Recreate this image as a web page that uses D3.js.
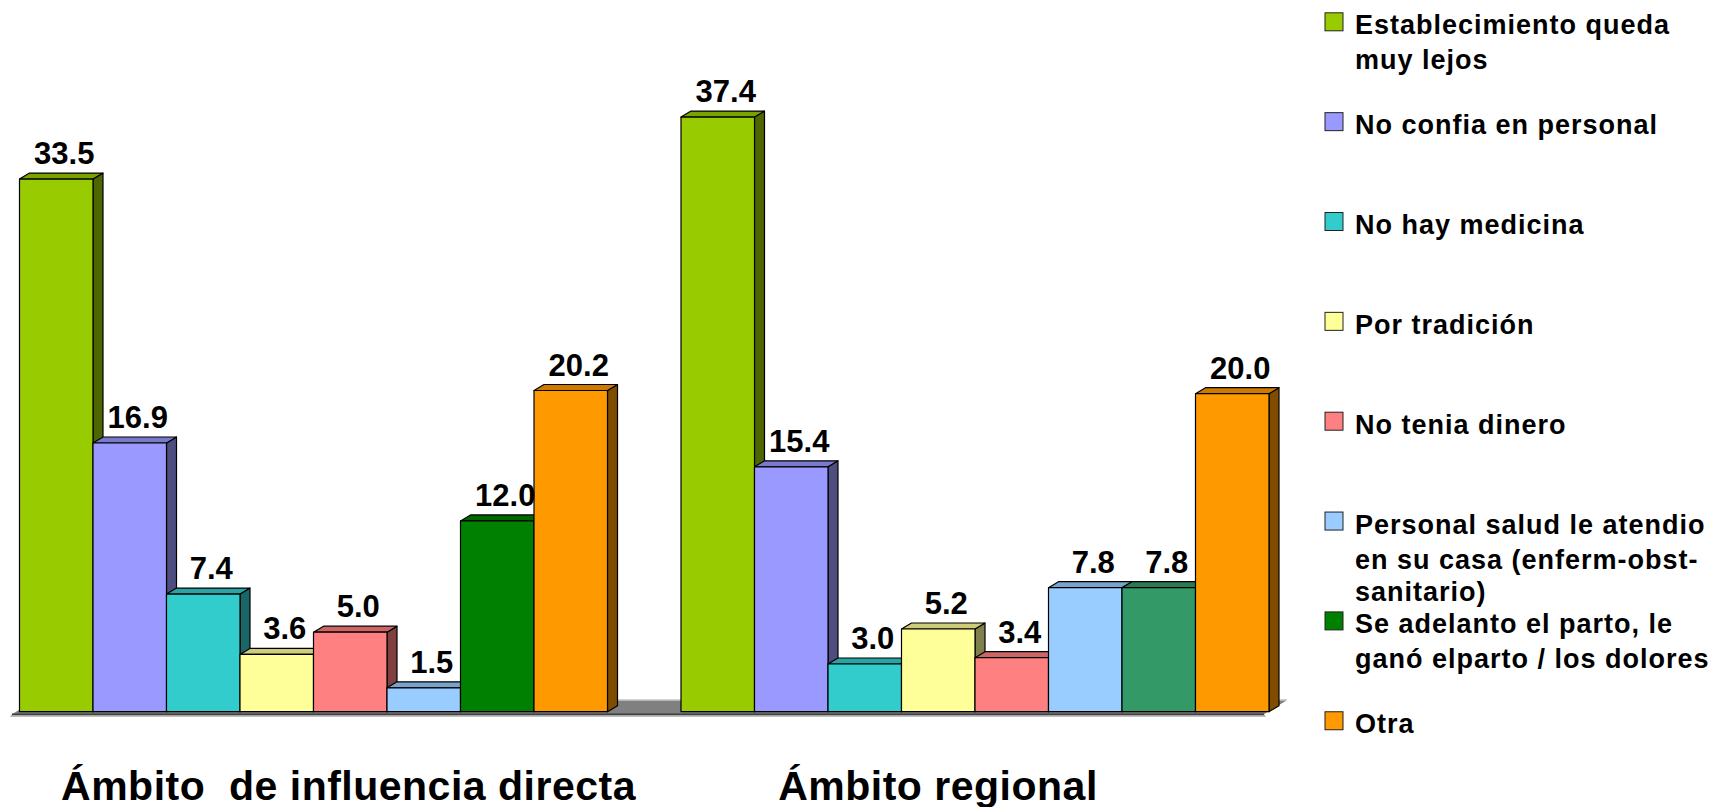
<!DOCTYPE html>
<html>
<head>
<meta charset="utf-8">
<script src="https://cdn.jsdelivr.net/npm/d3@7"></script>
<style>
  html, body { margin: 0; padding: 0; background: #ffffff; }
  svg { display: block; font-family: "Liberation Sans", Arial, sans-serif; }
</style>
</head>
<body>
<svg id="chart" width="1727" height="807"></svg>
<script>
// ---------------- DATA ----------------
const groups = ["Ámbito  de influencia directa", "Ámbito regional"];
const categories = [
  "Establecimiento queda muy lejos",
  "No confia en personal",
  "No hay medicina",
  "Por tradición",
  "No tenia dinero",
  "Personal salud le atendio en su casa (enferm-obst-sanitario)",
  "Se adelanto el parto, le ganó elparto / los dolores",
  "Otra"
];
const legendLines = [
  ["Establecimiento queda", "muy lejos"],
  ["No confia en personal"],
  ["No hay medicina"],
  ["Por tradición"],
  ["No tenia dinero"],
  ["Personal salud le atendio", "en su casa (enferm-obst-", "sanitario)"],
  ["Se adelanto el parto, le", "ganó elparto / los dolores"],
  ["Otra"]
];
const valuesDirecta  = [33.5, 16.9, 7.4, 3.6, 5.0, 1.5, 12.0, 20.2];
const valuesRegional = [37.4, 15.4, 3.0, 5.2, 3.4, 7.8, 7.8, 20.0];
const seriesColors   = ["#99CC00", "#9999FF", "#33CCCC", "#FFFF99", "#FF8080", "#99CCFF", "#008000", "#FF9900"];
// the regional "Se adelanto el parto" bar is drawn in a different green in the original
const regionalColors = ["#99CC00", "#9999FF", "#33CCCC", "#FFFF99", "#FF8080", "#99CCFF", "#339966", "#FF9900"];

// ---------------- LAYOUT ----------------
const svg = d3.select("#chart");
const baseY = 711.7;
const pxPerUnit = 15.9;
const depthX = 10, depthY = 6;

const y = d3.scaleLinear().domain([0, 40]).range([baseY, baseY - 40 * pxPerUnit]);
const xGroup = d3.scaleBand().domain(groups).range([19.5, 1269]).paddingInner(1 / 9).paddingOuter(0);
const xInner = d3.scaleBand().domain(categories).range([0, xGroup.bandwidth()]).padding(0);

const data = groups.map((g, gi) => ({
  group: g,
  values: (gi === 0 ? valuesDirecta : valuesRegional).map((v, i) => ({
    cat: categories[i], value: v, color: (gi === 0 ? seriesColors : regionalColors)[i]
  }))
}));

function shade(c, k) {
  const col = d3.rgb(c);
  return d3.rgb(col.r * k, col.g * k, col.b * k).formatHex();
}

// ---------------- FLOOR ----------------
const floorX0 = xGroup.range()[0] - 7.5, floorX1 = xGroup.range()[1] - 5;
const floorFront = baseY + 2.5, floorBack = baseY - 11.5;
svg.append("polygon")
  .attr("points", [
    [floorX0, floorFront], [floorX1, floorFront],
    [floorX1 + 23, floorBack], [floorX0 + 23, floorBack]
  ].map(p => p.join(",")).join(" "))
  .attr("fill", "#808080");
svg.append("line")
  .attr("x1", floorX0 + 23).attr("x2", floorX1 + 23)
  .attr("y1", floorBack - 0.5).attr("y2", floorBack - 0.5)
  .attr("stroke", "#d0d0d0").attr("stroke-width", 1.5);
svg.append("polygon")
  .attr("points", [
    [floorX0, floorFront], [floorX1, floorFront],
    [floorX1 + 2, floorFront + 2.5], [floorX0 - 2, floorFront + 2.5]
  ].map(p => p.join(",")).join(" "))
  .attr("fill", "#a8a8a8");
svg.append("line")
  .attr("x1", floorX0).attr("x2", floorX1)
  .attr("y1", floorFront).attr("y2", floorFront)
  .attr("stroke", "#404040").attr("stroke-width", 1.5);

// ---------------- BARS ----------------
const gGroups = svg.selectAll("g.grp").data(data).join("g")
  .attr("class", "grp")
  .attr("transform", d => `translate(${xGroup(d.group)},0)`);

gGroups.each(function(gd) {
  const g = d3.select(this);
  gd.values.forEach(d => {
    const x0 = xInner(d.cat), x1 = x0 + xInner.bandwidth();
    const top = y(d.value), bot = y(0);
    const bar = g.append("g").attr("stroke", "#000").attr("stroke-width", 1.2).attr("stroke-linejoin", "round");
    // side face
    bar.append("polygon")
      .attr("points", [[x1, top], [x1 + depthX, top - depthY], [x1 + depthX, bot - depthY], [x1, bot]].map(p => p.join(",")).join(" "))
      .attr("fill", shade(d.color, 0.5));
    // top face
    bar.append("polygon")
      .attr("points", [[x0, top], [x0 + depthX, top - depthY], [x1 + depthX, top - depthY], [x1, top]].map(p => p.join(",")).join(" "))
      .attr("fill", shade(d.color, 0.8));
    // front face
    bar.append("rect")
      .attr("x", x0).attr("y", top)
      .attr("width", xInner.bandwidth()).attr("height", bot - top)
      .attr("fill", d.color);
  });
});

// value labels
gGroups.each(function(gd) {
  d3.select(this).selectAll("text.val").data(gd.values).join("text")
    .attr("class", "val")
    .attr("x", d => xInner(d.cat) + xInner.bandwidth() / 2 + 8)
    .attr("y", d => y(d.value) - 15)
    .attr("text-anchor", "middle")
    .attr("font-size", 31)
    .attr("font-weight", "bold")
    .attr("fill", "#000")
    .text(d => d3.format(".1f")(d.value));
});

// group titles
const titleShift = [35, -37];
svg.selectAll("text.grpTitle").data(groups).join("text")
  .attr("class", "grpTitle")
  .attr("x", (d, i) => xGroup(d) + xGroup.bandwidth() / 2 + titleShift[i])
  .attr("y", 799.5)
  .attr("text-anchor", "middle")
  .attr("font-size", 41)
  .attr("font-weight", "bold")
  .attr("letter-spacing", 0.5)
  .style("white-space", "pre")
  .attr("fill", "#000")
  .text(d => d);

// ---------------- LEGEND ----------------
const legend = svg.append("g").attr("transform", "translate(1325,0)");
const legendStep = 99.85, firstBaseline = 34.3, lineH = 35;
const items = legend.selectAll("g.li").data(categories).join("g")
  .attr("class", "li")
  .attr("transform", (d, i) => `translate(0,${firstBaseline + i * legendStep})`);
items.append("rect")
  .attr("x", 0).attr("y", -21.5).attr("width", 18).attr("height", 18)
  .attr("fill", (d, i) => seriesColors[i])
  .attr("stroke", "#222").attr("stroke-width", 1);
items.each(function(d, i) {
  const t = d3.select(this).append("text")
    .attr("x", 30).attr("y", 0)
    .attr("font-size", 27).attr("font-weight", "bold")
    .attr("letter-spacing", 1)
    .attr("fill", "#000");
  legendLines[i].forEach((line, li) => {
    t.append("tspan").attr("x", 30).attr("y", li === 0 ? 0 : (li === 2 ? 67.5 : li * lineH)).text(line);
  });
});
</script>
</body>
</html>
